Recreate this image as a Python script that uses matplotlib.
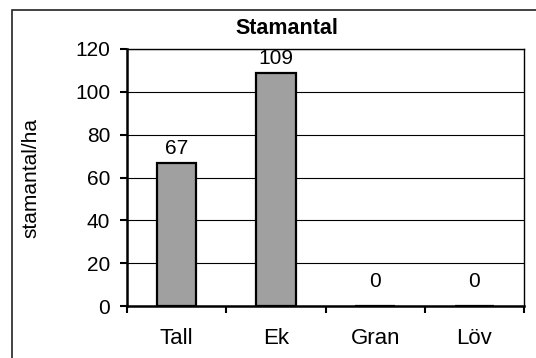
import numpy as np
import matplotlib
matplotlib.use('Agg')
import matplotlib.pyplot as plt
from matplotlib.patches import Rectangle

# ----- DATA -----
species = ['Tall', 'Ek', 'Gran', 'Löv']
stems = [67, 109, 0, 0]
yticks = [0, 20, 40, 60, 80, 100, 120]

plt.rcParams['font.family'] = ['Liberation Sans', 'DejaVu Sans']
fs = 15

W, H = 536, 358
fig = plt.figure(figsize=(W / 100, H / 100), dpi=100)

# outer chart border
fig.patches.append(Rectangle((12 / W, -0.2), 1.2, 1.2 - 10 / H, transform=fig.transFigure,
                             fill=False, edgecolor='#222222', lw=1.2, zorder=0))

ax = fig.add_axes([127 / W, 1 - 306 / H, (524 - 127) / W, (306 - 49) / H])
x = np.arange(len(species))
ax.bar(x, stems, width=0.4, color='#a0a0a0', edgecolor='black', lw=1.6, zorder=3)

# value labels above each bar
for xi, v in zip(x, stems):
    off = 3 if v > 0 else 11
    ax.annotate(str(v), xy=(xi, v), xytext=(0, off), textcoords='offset points',
                ha='center', va='bottom', fontsize=fs)

ax.set_xlim(-0.5, len(species) - 0.5)
ax.set_ylim(0, 120)
ax.set_yticks(yticks)
ax.yaxis.grid(True, color='black', lw=0.8, zorder=0)
ax.set_axisbelow(True)

# category boundaries as ticks, names in between
ax.set_xticks(np.arange(len(species) + 1) - 0.5)
ax.set_xticklabels([])
ax.set_xticks(x, minor=True)
ax.set_xticklabels(species, minor=True, fontsize=16)
ax.tick_params(axis='x', which='major', direction='out', length=5, width=1.5)
ax.tick_params(axis='x', which='minor', length=0, pad=16)
ax.tick_params(axis='y', direction='out', length=5, width=1.5, labelsize=fs, pad=7)

for side in ['left', 'bottom']:
    ax.spines[side].set_linewidth(1.8)
for side in ['top', 'right']:
    ax.spines[side].set_linewidth(1.0)

fig.text(31 / W, 1 - 178 / H, 'stamantal/ha', rotation=90, ha='center', va='center',
         fontsize=fs)
fig.text(287 / W, 1 - 28 / H, 'Stamantal', ha='center', va='center',
         fontsize=15.5, fontweight='bold')

fig.savefig('out.png', dpi=100)
